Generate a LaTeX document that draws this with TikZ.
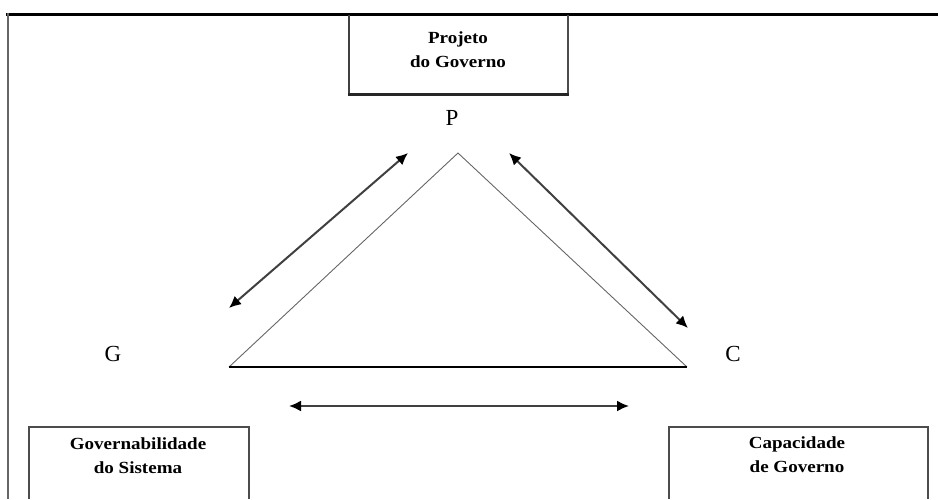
\documentclass[tikz,border=0pt]{standalone}
\usepackage{fontspec}
\setmainfont{Liberation Serif}
\newfontfamily\boxfont[FakeStretch=1.12]{Liberation Serif}
\usetikzlibrary{arrows.meta}
\begin{document}
\begin{tikzpicture}[x=1pt,y=-1pt,
  boxtext/.style={font=\boxfont\fontsize{17}{24}\selectfont\bfseries, align=center, inner sep=0pt},
  vlabel/.style={font=\fontsize{23}{26}\selectfont, inner sep=0pt},
  tri/.style={draw=black!60, line width=0.9pt},
  link/.style={draw=black!75, line width=2pt, {Latex[length=12pt,width=11pt,color=black]}-{Latex[length=12pt,width=11pt,color=black]}},
  frame/.style={line cap=butt}]
\useasboundingbox (0,0) rectangle (938,499);
% outer frame
\draw[frame, black, line width=3pt] (6,14.5) -- (938,14.5);
\draw[frame, black!60, line width=2pt] (8,13) -- (8,499);
% top box
\draw[black!75, line width=2pt] (349,15) -- (349,94);
\draw[black!70, line width=2pt] (568,15) -- (568,94);
\draw[black!85, line width=3pt] (348,94) -- (569,94);
\node[boxtext] (proj) at (458,50) {Projeto\\do Governo};
% labels
\node[vlabel] (P) at (452,118) {P};
\node[vlabel] (G) at (113,354) {G};
\node[vlabel] (C) at (733,354) {C};
% triangle
\coordinate (ta) at (458,153);
\coordinate (tl) at (229,367);
\coordinate (tr) at (687,367);
\draw[tri] (tl) -- (ta) -- (tr);
\draw[black, line width=1.5pt] (tl) -- (tr);
% arrows
\coordinate (l1) at (229,308);
\coordinate (l2) at (408,153);
\coordinate (r1) at (509,153);
\coordinate (r2) at (688,328);
\coordinate (b1) at (289,406);
\coordinate (b2) at (629,406);
\draw[link] (l1) -- (l2);
\draw[link] (r1) -- (r2);
\draw[link] (b1) -- (b2);
% bottom boxes
\draw[black!70, line width=1.5pt] (29,499) -- (29,427) -- (249,427) -- (249,499);
\node[boxtext] (gov) at (138,456) {Governabilidade\\do Sistema};
\draw[black!70, line width=1.5pt] (669,499) -- (669,427) -- (928,427) -- (928,499);
\node[boxtext] (cap) at (797,455) {Capacidade\\de Governo};
\end{tikzpicture}
\end{document}
